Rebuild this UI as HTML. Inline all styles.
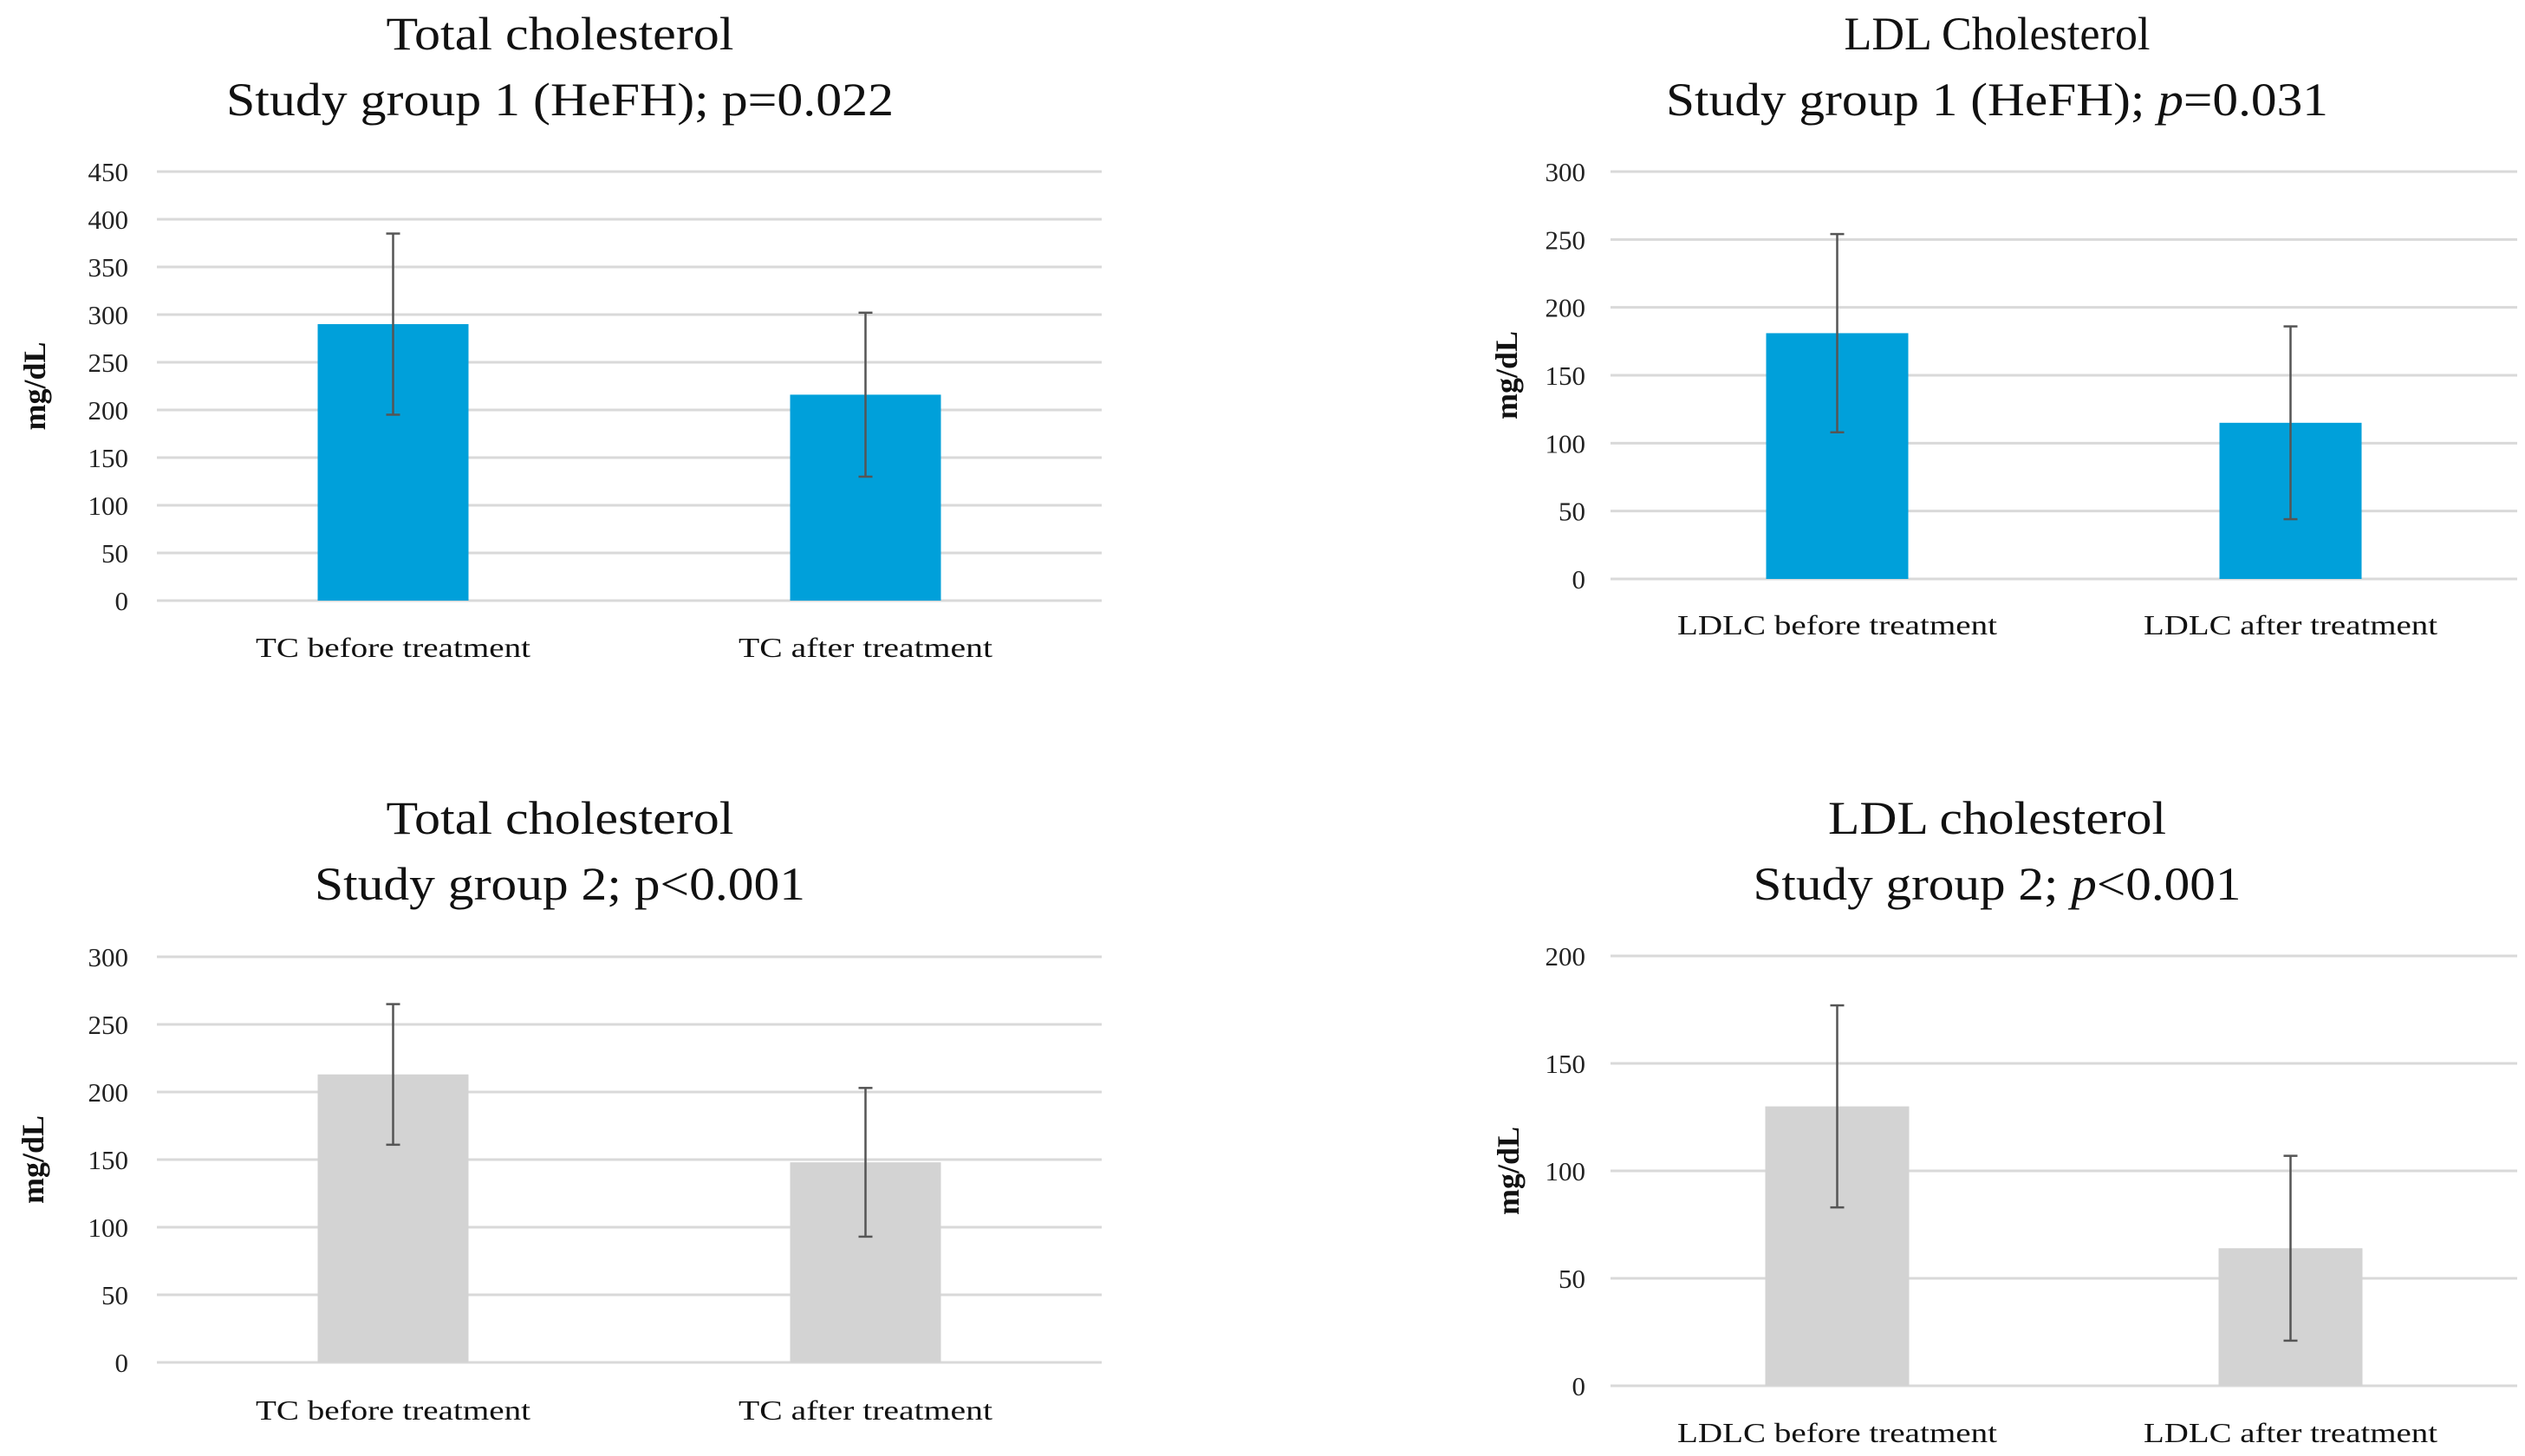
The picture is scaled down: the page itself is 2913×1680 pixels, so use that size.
<!DOCTYPE html>
<html><head><meta charset="utf-8"><style>
html,body{margin:0;padding:0;background:#fff;}
svg{display:block;font-family:"Liberation Serif",serif;}
</style></head><body>
<svg id="fig" width="2913" height="1680" viewBox="0 0 2913 1680" xmlns="http://www.w3.org/2000/svg"></svg>
<script>
// ---- data ----
const tcG1Categories = ["TC before treatment", "TC after treatment"];
const tcG1Values = [290, 216];
const tcG1Errors = [95, 86];
const tcG1Ticks = [0, 50, 100, 150, 200, 250, 300, 350, 400, 450];

const ldlG1Categories = ["LDLC before treatment", "LDLC after treatment"];
const ldlG1Values = [181, 115];
const ldlG1Errors = [73, 71];
const ldlG1Ticks = [0, 50, 100, 150, 200, 250, 300];

const tcG2Categories = ["TC before treatment", "TC after treatment"];
const tcG2Values = [213, 148];
const tcG2Errors = [52, 55];
const tcG2Ticks = [0, 50, 100, 150, 200, 250, 300];

const ldlG2Categories = ["LDLC before treatment", "LDLC after treatment"];
const ldlG2Values = [130, 64];
const ldlG2Errors = [47, 43];
const ldlG2Ticks = [0, 50, 100, 150, 200];

const NS = "http://www.w3.org/2000/svg";
const svg = document.getElementById("fig");
function mk(tag, attrs, parent){
  const e = document.createElementNS(NS, tag);
  for (const k in attrs) e.setAttribute(k, attrs[k]);
  (parent||svg).appendChild(e);
  return e;
}

function chart(o){
  const g = mk("g", {});
  
  
  const yMax = o.ticks[o.ticks.length-1];
  const yScale = v => o.y0 - (v / yMax) * (o.y0 - o.yTop);
  const n = o.cats.length;
  const bw = (o.x1 - o.x0) / n;
  const xCenter = i => o.x0 + bw * (i + 0.5);
  // titles
  o.titles.forEach((t, i) => {
    const tx = mk("text", {x: o.tcx, y: o.tBase[i], "font-size": 54, "text-anchor": "middle", fill: "#111", textLength: t.w, lengthAdjust: "spacingAndGlyphs"}, g);
    
    
    t.parts.forEach(p => {
      const s = mk("tspan", p.it ? {"font-style": "italic"} : {}, tx);
      s.textContent = p.s;
    });
  });
  // gridlines and ticks
  o.ticks.forEach(t => {
    const y = yScale(t);
    const l = mk("line", {x1: o.x0, x2: o.x1, y1: y, y2: y, stroke: "#d9d9d9", "stroke-width": 3}, g);
    
    
    const tl = mk("text", {x: o.tickX, y: y + 11, "font-size": 31, "text-anchor": "end", fill: "#222"}, g);
    
    
    tl.textContent = t;
  });
  // y-axis title
  const yc = (o.y0 + o.yTop) / 2;
  const yt = mk("text", {x: 0, y: 0, "font-size": 36, "font-weight": "bold", "text-anchor": "middle", fill: "#111", transform: `translate(${o.ylx},${yc}) rotate(-90)`}, g);
  
  
  yt.textContent = "mg/dL";
  // bars
  o.vals.forEach((v, i) => {
    const cx = xCenter(i);
    const r = mk("rect", {x: cx - o.barW/2, y: yScale(v), width: o.barW, height: o.y0 - yScale(v), fill: o.color}, g);
    
    
    const e = o.errs[i];
    const eb = mk("g", {stroke: "#555", "stroke-width": 2.5}, g);
    
    
    mk("line", {x1: cx, x2: cx, y1: yScale(v+e), y2: yScale(v-e)}, eb);
    mk("line", {x1: cx-8, x2: cx+8, y1: yScale(v+e), y2: yScale(v+e)}, eb);
    mk("line", {x1: cx-8, x2: cx+8, y1: yScale(v-e), y2: yScale(v-e)}, eb);
    const cl = mk("text", {x: cx, y: o.catY, "font-size": 32, "text-anchor": "middle", fill: "#111", textLength: o.catW[i], lengthAdjust: "spacingAndGlyphs"}, g);
    
    
    cl.textContent = o.cats[i];
  });
}

chart({name: "tc-group1-chart", cats: tcG1Categories, vals: tcG1Values, errs: tcG1Errors, ticks: tcG1Ticks,
  x0: 181, x1: 1271, yTop: 198, y0: 693, barW: 174, color: "#00a0da", tickX: 148, ylx: 52,
  tcx: 646, tBase: [57, 133], titles: [
    {w: 401, parts: [{s: "Total cholesterol"}]},
    {w: 770, parts: [{s: "Study group 1 (HeFH); p=0.022"}]}],
  catY: 758, catW: [317, 293]});

chart({name: "ldl-group1-chart", cats: ldlG1Categories, vals: ldlG1Values, errs: ldlG1Errors, ticks: ldlG1Ticks,
  x0: 1858, x1: 2904, yTop: 198, y0: 668, barW: 164, color: "#00a0da", tickX: 1829, ylx: 1750,
  tcx: 2304, tBase: [57, 133], titles: [
    {w: 353, parts: [{s: "LDL Cholesterol"}]},
    {w: 764, parts: [{s: "Study group 1 (HeFH); "}, {s: "p", it: true}, {s: "=0.031"}]}],
  catY: 732, catW: [369, 339]});

chart({name: "tc-group2-chart", cats: tcG2Categories, vals: tcG2Values, errs: tcG2Errors, ticks: tcG2Ticks,
  x0: 181, x1: 1271, yTop: 1104, y0: 1572, barW: 174, color: "#d3d3d3", tickX: 148, ylx: 50,
  tcx: 646, tBase: [962, 1038], titles: [
    {w: 401, parts: [{s: "Total cholesterol"}]},
    {w: 566, parts: [{s: "Study group 2; p<0.001"}]}],
  catY: 1638, catW: [317, 293]});

chart({name: "ldl-group2-chart", cats: ldlG2Categories, vals: ldlG2Values, errs: ldlG2Errors, ticks: ldlG2Ticks,
  x0: 1858, x1: 2904, yTop: 1103, y0: 1599, barW: 166, color: "#d3d3d3", tickX: 1829, ylx: 1752,
  tcx: 2304, tBase: [962, 1038], titles: [
    {w: 390, parts: [{s: "LDL cholesterol"}]},
    {w: 563, parts: [{s: "Study group 2; "}, {s: "p", it: true}, {s: "<0.001"}]}],
  catY: 1664, catW: [369, 339]});
</script>
</body></html>
